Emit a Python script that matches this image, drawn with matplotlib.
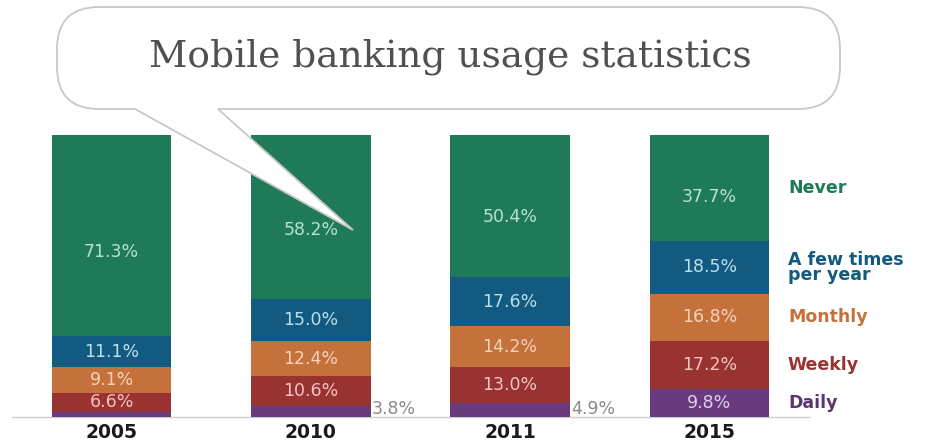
import matplotlib.pyplot as plt
import numpy as np
from matplotlib.path import Path
from matplotlib.patches import PathPatch

years = ["2005", "2010", "2011", "2015"]
categories = ["Daily", "Weekly", "Monthly", "A few times\nper year", "Never"]
daily = [1.9, 3.8, 4.9, 9.8]
weekly = [6.6, 10.6, 13.0, 17.2]
monthly = [9.1, 12.4, 14.2, 16.8]
few_times = [11.1, 15.0, 17.6, 18.5]
never = [71.3, 58.2, 50.4, 37.7]
title = "Mobile banking usage statistics"

series = [daily, weekly, monthly, few_times, never]
fills = ["#6a3a7f", "#983331", "#c4713b", "#135a80", "#1f7a58"]
label_colors = ["#ddd0ea", "#f3c4c0", "#f6d3b8", "#b8e0ef", "#b6e3cc"]
name_colors = ["#5c3470", "#983331", "#c4713b", "#135a80", "#1f7a58"]

W, H = 926, 443
fig = plt.figure(figsize=(W / 100, H / 100), dpi=100)
ax = fig.add_axes([0, 0, 1, 1])
ax.set_xlim(-0.5595, 4.087)
ax.set_ylim(-9.22, 147.9)
ax.axis("off")

x = np.arange(len(years))
width = 0.6
bottom = np.zeros(len(years))
for k, (vals, fc, lc) in enumerate(zip(series, fills, label_colors)):
    vals = np.asarray(vals)
    ax.bar(x, vals, width, bottom=bottom, color=fc, zorder=2)
    # the big top segment has its number a bit below the middle
    frac = 0.42 if k == len(series) - 1 else 0.5
    for xi, b, v in zip(x, bottom, vals):
        if v < 3:
            continue
        if v < 6:
            # too thin, put the number next to the bar
            ax.text(xi + width / 2 + 0.005, -0.3, f"{v:.1f}%", ha="left", va="bottom",
                    fontsize=12.5, color="#8a8a8a", family="DejaVu Sans", zorder=3)
        else:
            ax.text(xi, b + v * frac, f"{v:.1f}%", ha="center", va="center",
                    fontsize=12.5, color=lc, family="DejaVu Sans", zorder=3)
    bottom = bottom + vals

ax.plot([-0.5, 3.5], [0, 0], color="#cfcfcf", lw=1, zorder=1)

for xi, yr in zip(x, years):
    ax.text(xi, -5.5, yr, ha="center", va="center", fontsize=13.5, fontweight="bold",
            color="#1a1a1a", family="DejaVu Sans")

# category names next to the last bar
cum = 0.0
for name, vals, nc in zip(categories, series, name_colors):
    v = vals[-1]
    ax.text(3.394, cum + v / 2, name, ha="left", va="center", fontsize=12.5,
            fontweight="bold", color=nc, family="DejaVu Sans", linespacing=0.8)
    cum += v

# speech bubble with the title
bx = fig.add_axes([0, 0, 1, 1])
bx.set_xlim(0, W)
bx.set_ylim(H, 0)
bx.axis("off")
bx.patch.set_alpha(0)
L, R, T, B, r = 57, 840, 7, 109, 42
verts = [
    (L + r, T), (R - r, T), (R, T), (R, T + r), (R, B - r), (R, B), (R - r, B),
    (218, B), (353, 230), (135, B), (L + r, B), (L, B), (L, B - r),
    (L, T + r), (L, T), (L + r, T), (L + r, T),
]
codes = [
    Path.MOVETO, Path.LINETO, Path.CURVE3, Path.CURVE3, Path.LINETO, Path.CURVE3, Path.CURVE3,
    Path.LINETO, Path.LINETO, Path.LINETO, Path.LINETO, Path.CURVE3, Path.CURVE3,
    Path.LINETO, Path.CURVE3, Path.CURVE3, Path.CLOSEPOLY,
]
bx.add_patch(PathPatch(Path(verts, codes), facecolor="white", edgecolor="#c8c8c8", lw=1.3))
bx.text(450, 57, title, ha="center", va="center", fontsize=27, color="#505050",
        family="DejaVu Serif")

fig.savefig("out.png", dpi=100)
